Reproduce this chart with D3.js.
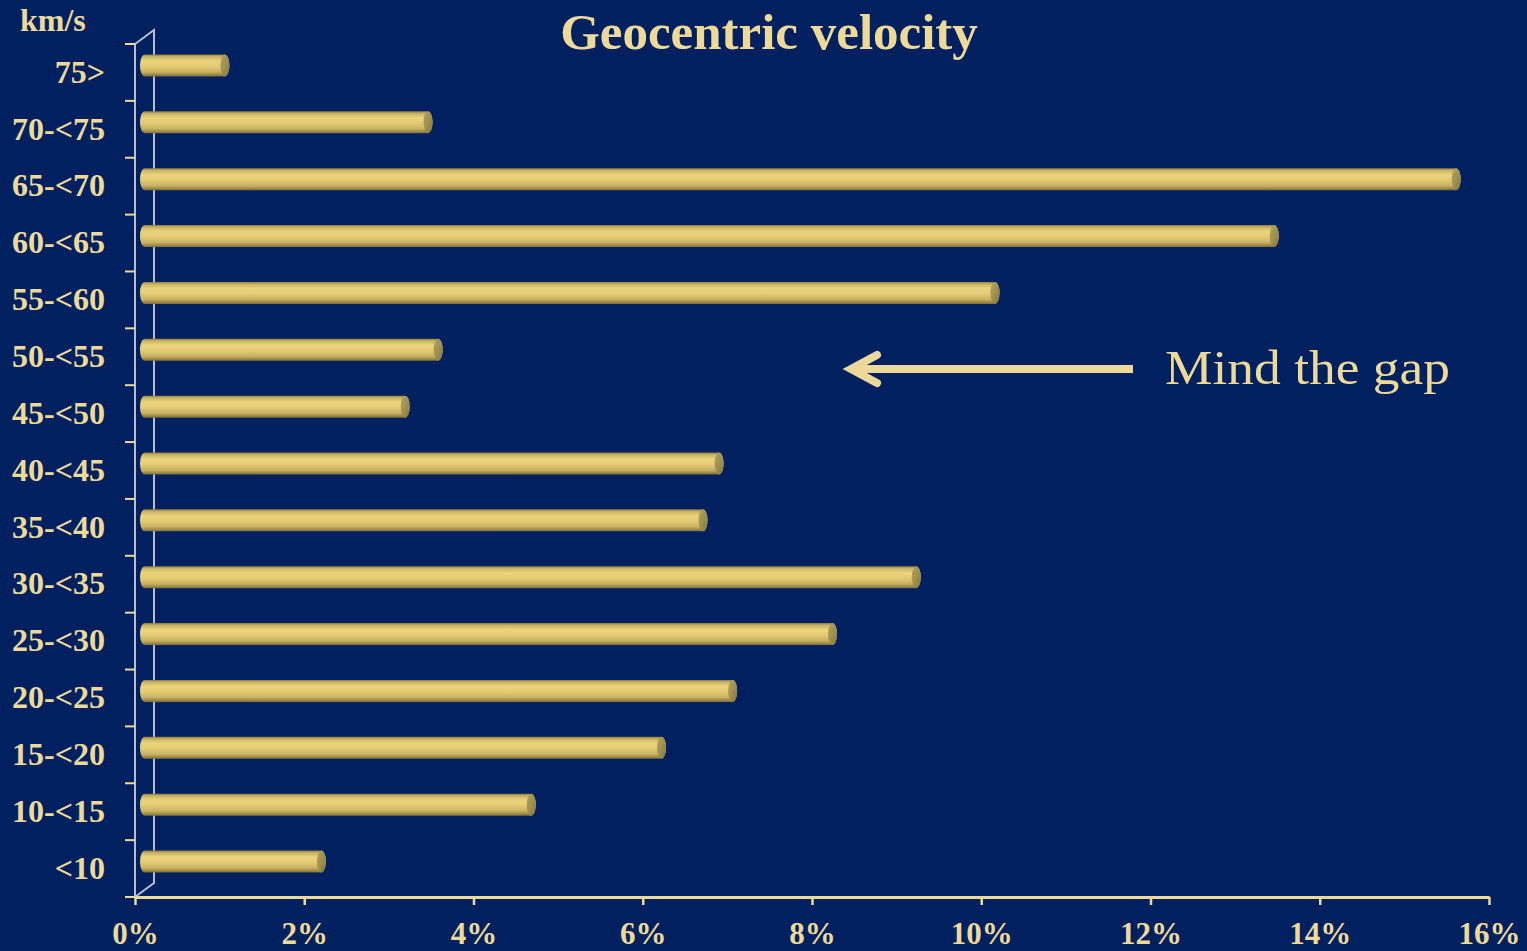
<!DOCTYPE html>
<html>
<head>
<meta charset="utf-8">
<script src="https://cdn.jsdelivr.net/npm/d3@7"></script>
<style>
  html, body { margin: 0; padding: 0; background: #002060; }
  svg { display: block; }
  text { font-family: "Liberation Serif", "Times New Roman", serif; fill: #EEDA98; }
</style>
</head>
<body>
<svg id="chart" width="1527" height="951"></svg>
<script>
// Geocentric velocity classes (km/s), top to bottom
const categories = ["75>", "70-<75", "65-<70", "60-<65", "55-<60", "50-<55", "45-<50",
  "40-<45", "35-<40", "30-<35", "25-<30", "20-<25", "15-<20", "10-<15", "<10"];
// Share of meteors in each class (%)
const shares = [0.95, 3.35, 15.5, 13.35, 10.05, 3.47, 3.08, 6.79, 6.6, 9.12, 8.13, 6.95, 6.11, 4.57, 2.09];
// Percentage ticks along the horizontal axis
const xTicks = [0, 2, 4, 6, 8, 10, 12, 14, 16];

const svg = d3.select("#chart");
const W = 1527, H = 951;
svg.append("rect").attr("width", W).attr("height", H).attr("fill", "#002060");

const plot = { left: 135, right: 1489, top: 44, bottom: 897 };
const depth = { dx: 19, dy: -14 };   // 3-D wall offset
const barH = 22;

const x = d3.scaleLinear().domain([0, 16]).range([plot.left, plot.right]);
const y = d3.scaleBand().domain(categories).range([plot.top, plot.bottom]).padding(0);

const tan = "#EEDA98";
const wall = "#B9BCCB";

// gradients for the cylinder bars
const defs = svg.append("defs");
const body = defs.append("linearGradient").attr("id", "barBody")
  .attr("x1", 0).attr("y1", 0).attr("x2", 0).attr("y2", 1);
[[0, "#8C7C40"], [0.1, "#C9B463"], [0.3, "#EBD47D"], [0.55, "#E3CB73"], [0.8, "#C7B062"], [1, "#7F7038"]]
  .forEach(([o, c]) => body.append("stop").attr("offset", o).attr("stop-color", c));
const cap = defs.append("linearGradient").attr("id", "barCap")
  .attr("x1", 0).attr("y1", 0).attr("x2", 1).attr("y2", 1);
[[0, "#B3A35C"], [0.5, "#A09050"], [1, "#857640"]]
  .forEach(([o, c]) => cap.append("stop").attr("offset", o).attr("stop-color", c));

// back wall outline
const g = svg.append("g");
g.append("path")
  .attr("d", `M${plot.left},${plot.top} L${plot.left + depth.dx},${plot.top + depth.dy}
              L${plot.left + depth.dx},${plot.bottom + depth.dy} L${plot.left},${plot.bottom}`)
  .attr("fill", "none").attr("stroke", wall).attr("stroke-width", 2);
g.append("line")
  .attr("x1", plot.left).attr("x2", plot.left)
  .attr("y1", plot.top).attr("y2", plot.bottom)
  .attr("stroke", wall).attr("stroke-width", 2);

// bars as cylinders
const rx = 4.5;
const bars = g.append("g").selectAll("g.bar")
  .data(categories.map((c, i) => ({ cat: c, v: shares[i] })))
  .join("g").attr("class", "bar");

bars.append("path")
  .attr("d", d => {
    const cy = y(d.cat) + y.bandwidth() / 2 + depth.dy / 2;
    const x0 = x(0) + depth.dx / 2, x1 = x(d.v) + depth.dx / 2;
    const t = cy - barH / 2, b = cy + barH / 2;
    return `M${x0},${t} L${x1},${t} A${rx},${barH / 2} 0 0 1 ${x1},${b}
            L${x0},${b} A${rx},${barH / 2} 0 0 1 ${x0},${t} Z`;
  })
  .attr("fill", "url(#barBody)");

bars.append("ellipse")
  .attr("cx", d => x(d.v) + depth.dx / 2)
  .attr("cy", d => y(d.cat) + y.bandwidth() / 2 + depth.dy / 2)
  .attr("rx", rx).attr("ry", barH / 2)
  .attr("fill", "url(#barCap)");

// horizontal axis
const xAxis = d3.axisBottom(x).tickValues(xTicks).tickFormat(d => d + "%")
  .tickSize(8).tickSizeOuter(0).tickPadding(17);
const xg = svg.append("g").attr("transform", `translate(0,${plot.bottom})`).call(xAxis);
xg.select(".domain").attr("stroke", tan).attr("stroke-width", 3);
xg.selectAll(".tick line").attr("stroke", tan).attr("stroke-width", 2.5);
xg.selectAll(".tick text").attr("fill", tan)
  .style("font-family", "'Liberation Serif', serif")
  .style("font-size", "31px").style("font-weight", "bold");

// category boundary ticks on the left
const bounds = categories.map(c => y(c)).concat([plot.bottom]);
svg.append("g").selectAll("line").data(bounds).join("line")
  .attr("x1", plot.left - 10).attr("x2", plot.left)
  .attr("y1", d => d).attr("y2", d => d)
  .attr("stroke", tan).attr("stroke-width", 2);

// category labels
svg.append("g").selectAll("text").data(categories).join("text")
  .attr("x", 105)
  .attr("y", d => y(d) + y.bandwidth() / 2)
  .attr("dy", "0.32em")
  .attr("text-anchor", "end")
  .style("font-size", "32px").style("font-weight", "bold")
  .text(d => d);

// unit label
svg.append("text").attr("x", 20).attr("y", 31)
  .style("font-size", "32px").style("font-weight", "bold").text("km/s");

// title
svg.append("text").attr("x", 769).attr("y", 49).attr("text-anchor", "middle")
  .style("font-size", "51px").style("font-weight", "bold").text("Geocentric velocity");

// annotation arrow and note
const arrowY = 369;
svg.append("line")
  .attr("x1", 852).attr("x2", 1133).attr("y1", arrowY).attr("y2", arrowY)
  .attr("stroke", "#ECD89A").attr("stroke-width", 8);
svg.append("path")
  .attr("d", `M877,${arrowY - 14} L851,${arrowY} L877,${arrowY + 14}`)
  .attr("fill", "none").attr("stroke", "#ECD89A").attr("stroke-width", 8)
  .attr("stroke-linecap", "round").attr("stroke-linejoin", "miter");
svg.append("text").attr("x", 1165).attr("y", 384)
  .attr("textLength", 285).attr("lengthAdjust", "spacingAndGlyphs")
  .style("font-size", "48px").text("Mind the gap");
</script>
</body>
</html>
